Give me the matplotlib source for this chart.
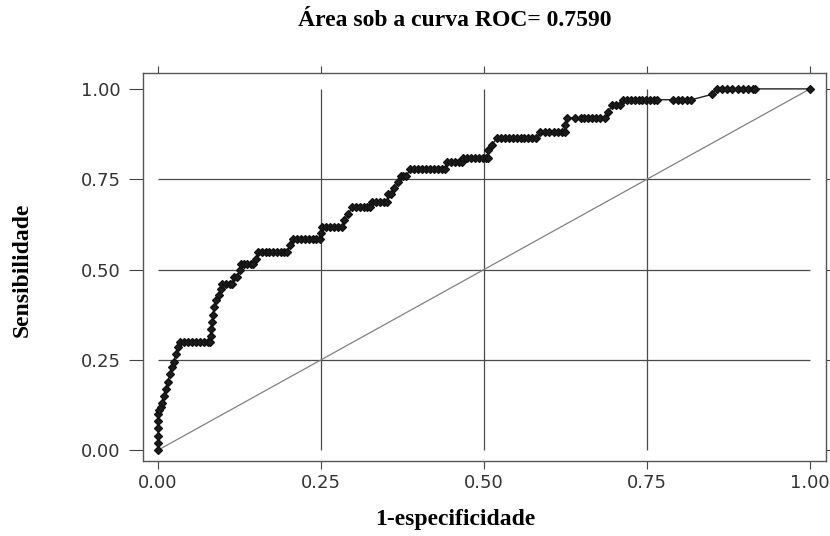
import matplotlib
matplotlib.use("Agg")
import matplotlib.pyplot as plt

# ROC points (1-especificidade, sensibilidade)
fpr = [0.0, 0.0, 0.0, 0.0, 0.0, 0.0, 0.002,
       0.004, 0.006, 0.009, 0.012, 0.015, 0.018, 0.021, 0.024, 0.027, 0.030, 0.034,
       0.040, 0.046, 0.052, 0.058, 0.064, 0.070, 0.076, 0.080,
       0.081, 0.082, 0.083, 0.084, 0.086, 0.089, 0.093, 0.096, 0.098,
       0.104, 0.110, 0.114, 0.117, 0.121,
       0.126, 0.127, 0.132, 0.137, 0.142, 0.146,
       0.150, 0.153, 0.159, 0.165, 0.171, 0.177, 0.183, 0.189, 0.194, 0.198,
       0.202, 0.207, 0.213, 0.219, 0.225, 0.231, 0.237, 0.243, 0.248,
       0.250, 0.252, 0.258, 0.264, 0.270, 0.276, 0.282,
       0.285, 0.292, 0.298, 0.304, 0.310, 0.316, 0.321, 0.325,
       0.328, 0.334, 0.340, 0.346, 0.351,
       0.353, 0.358, 0.362, 0.368, 0.372, 0.376, 0.381,
       0.387, 0.393, 0.399, 0.405, 0.411, 0.417, 0.423, 0.429, 0.435, 0.440,
       0.443, 0.449, 0.455, 0.461, 0.466,
       0.468, 0.474, 0.480, 0.486, 0.492, 0.498, 0.503, 0.506,
       0.506, 0.512, 0.520, 0.526, 0.532, 0.538, 0.544, 0.550, 0.556, 0.562, 0.568, 0.574, 0.580,
       0.586, 0.593, 0.600, 0.607, 0.614, 0.620, 0.624,
       0.624, 0.627, 0.640, 0.648, 0.654, 0.660, 0.666, 0.672, 0.678, 0.686,
       0.690, 0.697, 0.703, 0.708,
       0.713, 0.719, 0.725, 0.731, 0.737, 0.743, 0.749, 0.755, 0.761, 0.765,
       0.790, 0.797, 0.804, 0.811, 0.818,
       0.850, 0.857, 0.865, 0.873, 0.881, 0.889, 0.897, 0.905, 0.912, 0.916,
       1.0]
tpr = [0.0, 0.02, 0.04, 0.06, 0.08, 0.10, 0.11,
       0.12, 0.13, 0.15, 0.17, 0.19, 0.21, 0.23, 0.245, 0.265, 0.285, 0.30,
       0.30, 0.30, 0.30, 0.30, 0.30, 0.30, 0.30, 0.30,
       0.315, 0.335, 0.355, 0.375, 0.395, 0.415, 0.43, 0.445, 0.46,
       0.46, 0.46, 0.46, 0.48, 0.48,
       0.50, 0.515, 0.515, 0.515, 0.515, 0.515,
       0.53, 0.548, 0.548, 0.548, 0.548, 0.548, 0.548, 0.548, 0.548, 0.548,
       0.567, 0.584, 0.584, 0.584, 0.584, 0.584, 0.584, 0.584, 0.584,
       0.60, 0.618, 0.618, 0.618, 0.618, 0.618, 0.618,
       0.637, 0.654, 0.673, 0.673, 0.673, 0.673, 0.673, 0.673,
       0.687, 0.687, 0.687, 0.687, 0.687,
       0.71, 0.71, 0.726, 0.742, 0.76, 0.76, 0.76,
       0.778, 0.778, 0.778, 0.778, 0.778, 0.778, 0.778, 0.778, 0.778, 0.778,
       0.798, 0.798, 0.798, 0.798, 0.798,
       0.81, 0.81, 0.81, 0.81, 0.81, 0.81, 0.81, 0.81,
       0.83, 0.845, 0.864, 0.864, 0.864, 0.864, 0.864, 0.864, 0.864, 0.864, 0.864, 0.864, 0.864,
       0.88, 0.88, 0.88, 0.88, 0.88, 0.88, 0.88,
       0.90, 0.92, 0.92, 0.92, 0.92, 0.92, 0.92, 0.92, 0.92, 0.92,
       0.936, 0.955, 0.955, 0.955,
       0.97, 0.97, 0.97, 0.97, 0.97, 0.97, 0.97, 0.97, 0.97, 0.97,
       0.97, 0.97, 0.97, 0.97, 0.97,
       0.985, 1.0, 1.0, 1.0, 1.0, 1.0, 1.0, 1.0, 1.0, 1.0,
       1.0]

ticks = [0.0, 0.25, 0.5, 0.75, 1.0]
tick_labels = ["0.00", "0.25", "0.50", "0.75", "1.00"]
grid_pos = [0.25, 0.5, 0.75]

fig = plt.figure(figsize=(8.3, 5.36), dpi=100)
ax = fig.add_axes([143 / 830, 75 / 536, 683 / 830, 388 / 536])

# grid only inside the unit square
ax.hlines(grid_pos, 0, 1, color="#4a4a4a", lw=0.9, zorder=1)
ax.vlines(grid_pos, 0, 1, color="#4a4a4a", lw=0.9, zorder=1)

# chance line
ax.plot([0, 1], [0, 1], color="#808080", lw=0.9, zorder=2)

# ROC curve
ax.plot(fpr, tpr, color="#222222", lw=1.0, marker="D", markersize=3.8,
        mfc="#1c1c1c", mec="#111111", mew=0.9, zorder=3)

ax.set_xlim(-0.023, 1.0245)
ax.set_ylim(-0.030, 1.044)

ax.set_xticks(ticks)
ax.set_xticklabels(tick_labels)
ax.set_yticks(ticks)
ax.set_yticklabels(tick_labels)
ax.tick_params(axis="both", labelsize=13, labelcolor="#333333", color="#444444",
               direction="out", width=0.8, top=True, right=True)
ax.tick_params(axis="x", length=6, pad=3)
ax.tick_params(axis="y", length=10, pad=6)
for t in ax.xaxis.get_major_ticks():
    t.tick2line.set_markersize(5)
for t in ax.yaxis.get_major_ticks():
    t.tick2line.set_markersize(5)

for s in ax.spines.values():
    s.set_color("#555555")
    s.set_linewidth(1.0)

serif = ["Liberation Serif", "DejaVu Serif"]
fig.text(455 / 830, 1 - 20 / 536, "Área sob a curva ROC= 0.7590", ha="center", va="center",
         fontsize=17, fontweight="bold", family=serif)
fig.text(455 / 830, 1 - 520 / 536, "1-especificidade", ha="center", va="center",
         fontsize=17, fontweight="bold", family=serif)
fig.text(22 / 830, 1 - 270 / 536, "Sensibilidade", ha="center", va="center", rotation=90,
         fontsize=17, fontweight="bold", family=serif)

fig.savefig("out.png", dpi=100, facecolor="white")
